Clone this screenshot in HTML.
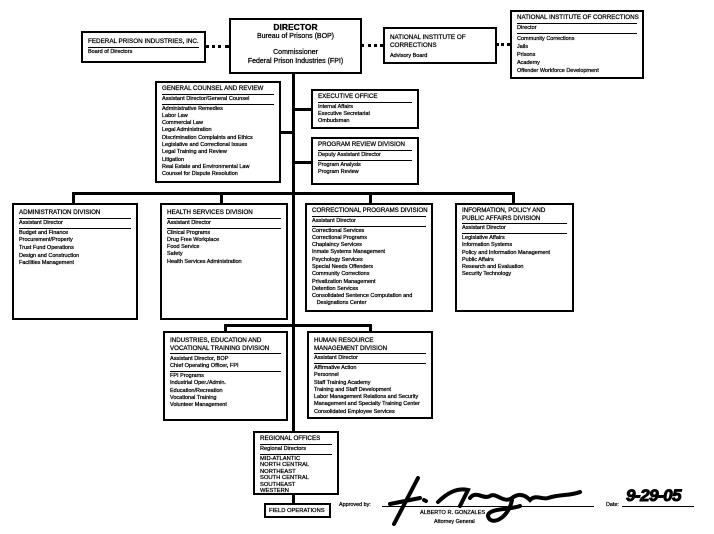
<!DOCTYPE html>
<html><head><meta charset="utf-8">
<style>
body{margin:0;width:714px;height:534px;background:#fff;position:relative;overflow:hidden;font-family:"Liberation Sans",Arial,sans-serif;color:#000;-webkit-text-stroke:0.25px #000}
.b{position:absolute;border:2px solid #000;box-sizing:border-box;padding:2px 5px;background:#fff}
.t{font-size:6.2px;line-height:7.5px;border-bottom:1.5px solid #000;padding-bottom:1px;white-space:nowrap}
.s{font-size:5.6px;line-height:7px;border-bottom:1.5px solid #000;padding:1px 0;white-space:nowrap}
.i{font-size:5.5px;line-height:7.3px;padding-top:1px;white-space:nowrap}
.h{position:absolute;background:#000}
.d{position:absolute;border-top:3px dotted #000;height:0}
.tx{position:absolute;white-space:nowrap}
</style></head><body>
<div class="h" style="left:292px;top:72px;width:3px;height:360px"></div>
<div class="h" style="left:292px;top:494px;width:3px;height:10px"></div>
<div class="h" style="left:279px;top:131px;width:14px;height:3px"></div>
<div class="h" style="left:293px;top:108px;width:18px;height:3px"></div>
<div class="h" style="left:293px;top:161px;width:18px;height:3px"></div>
<div class="h" style="left:72px;top:192px;width:443px;height:3px"></div>
<div class="h" style="left:72px;top:192px;width:3px;height:12px"></div>
<div class="h" style="left:220px;top:192px;width:3px;height:12px"></div>
<div class="h" style="left:369px;top:192px;width:3px;height:12px"></div>
<div class="h" style="left:512px;top:192px;width:3px;height:12px"></div>
<div class="h" style="left:224px;top:324px;width:148px;height:3px"></div>
<div class="h" style="left:224px;top:324px;width:3px;height:8px"></div>
<div class="h" style="left:369px;top:324px;width:3px;height:8px"></div>
<div class="d" style="left:205px;top:45px;width:24px"></div>
<div class="d" style="left:361px;top:44px;width:22px"></div>
<div class="d" style="left:496px;top:43px;width:14px"></div>

<div class="b" style="left:229px;top:18px;width:133px;height:56px;text-align:center;padding:2px 2px">
<div style="font-size:8.5px;font-weight:bold;line-height:10px">DIRECTOR</div>
<div style="font-size:7px;line-height:9px">Bureau of Prisons (BOP)</div>
<div style="font-size:7px;line-height:9px;margin-top:7px">Commissioner</div>
<div style="font-size:7px;line-height:9px">Federal Prison Industries (FPI)</div>
</div>

<div class="b" style="left:81px;top:31px;width:125px;height:32px;padding-top:5px">
<div class="t" style="font-size:6.3px">FEDERAL PRISON INDUSTRIES, INC.</div>
<div class="i">Board of Directors</div></div>

<div class="b" style="left:383px;top:27px;width:114px;height:37px;padding-top:5px">
<div style="font-size:6.3px;line-height:8px">NATIONAL INSTITUTE OF<br>CORRECTIONS</div>
<div class="i" style="padding-top:3px">Advisory Board</div></div>

<div class="b" style="left:510px;top:10px;width:134px;height:69px">
<div class="t">NATIONAL INSTITUTE OF CORRECTIONS</div>
<div class="s">Director</div>
<div class="i" style="line-height:8px">Community Corrections<br>Jails<br>Prisons<br>Academy<br>Offender Workforce Development</div></div>

<div class="b" style="left:155px;top:81px;width:126px;height:102px">
<div class="t">GENERAL COUNSEL AND REVIEW</div>
<div class="s">Assistant Director/General Counsel</div>
<div class="i">Administrative Remedies<br>Labor Law<br>Commercial Law<br>Legal Administration<br>Discrimination Complaints and Ethics<br>Legislative and Correctional Issues<br>Legal Training and Review<br>Litigation<br>Real Estate and Environmental Law<br>Counsel for Dispute Resolution</div></div>

<div class="b" style="left:311px;top:89px;width:108px;height:40px">
<div class="t">EXECUTIVE OFFICE</div>
<div class="i">Internal Affairs<br>Executive Secretariat<br>Ombudsman</div></div>

<div class="b" style="left:311px;top:137px;width:108px;height:48px">
<div class="t">PROGRAM REVIEW DIVISION</div>
<div class="s">Deputy Assistant Director</div>
<div class="i">Program Analysis<br>Program Review</div></div>

<div class="b" style="left:12px;top:203px;width:126px;height:117px;padding-top:4px">
<div class="t">ADMINISTRATION DIVISION</div>
<div class="s">Assistant Director</div>
<div class="i" style="line-height:7.7px">Budget and Finance<br>Procurement/Property<br>Trust Fund Operations<br>Design and Construction<br>Facilities Management</div></div>

<div class="b" style="left:160px;top:203px;width:128px;height:117px;padding-top:4px">
<div class="t">HEALTH SERVICES DIVISION</div>
<div class="s">Assistant Director</div>
<div class="i">Clinical Programs<br>Drug Free Workplace<br>Food Service<br>Safety<br>Health Services Administration</div></div>

<div class="b" style="left:305px;top:203px;width:128px;height:109px">
<div class="t">CORRECTIONAL PROGRAMS DIVISION</div>
<div class="s">Assistant Director</div>
<div class="i">Correctional Services<br>Correctional Programs<br>Chaplaincy Services<br>Inmate Systems Management<br>Psychology Services<br>Special Needs Offenders<br>Community Corrections<br>Privatization Management<br>Detention Services<br>Consolidated Sentence Computation and<br>&nbsp;&nbsp;&nbsp;Designations Center</div></div>

<div class="b" style="left:455px;top:203px;width:119px;height:109px">
<div class="t" style="white-space:normal">INFORMATION, POLICY AND PUBLIC AFFAIRS DIVISION</div>
<div class="s">Assistant Director</div>
<div class="i">Legislative Affairs<br>Information Systems<br>Policy and Information Management<br>Public Affairs<br>Research and Evaluation<br>Security Technology</div></div>

<div class="b" style="left:163px;top:331px;width:125px;height:90px;padding-top:4px">
<div class="t">INDUSTRIES, EDUCATION AND<br>VOCATIONAL TRAINING DIVISION</div>
<div class="s" style="padding-top:2px">Assistant Director, BOP<br>Chief Operating Officer, FPI</div>
<div class="i">FPI Programs<br>Industrial Oper./Admin.<br>Education/Recreation<br>Vocational Training<br>Volunteer Management</div></div>

<div class="b" style="left:307px;top:331px;width:126px;height:88px;padding-top:4px">
<div class="t" style="border:none">HUMAN RESOURCE<br>MANAGEMENT DIVISION</div>
<div class="s" style="border-top:1.5px solid #000">Assistant Director</div>
<div class="i">Affirmative Action<br>Personnel<br>Staff Training Academy<br>Training and Staff Development<br>Labor Management Relations and Security<br>Management and Specialty Training Center<br>Consolidated Employee Services</div></div>

<div class="b" style="left:253px;top:431px;width:86px;height:64px">
<div class="t">REGIONAL OFFICES</div>
<div class="s">Regional Directors</div>
<div class="i" style="line-height:6.5px;font-size:5.8px">MID-ATLANTIC<br>NORTH CENTRAL<br>NORTHEAST<br>SOUTH CENTRAL<br>SOUTHEAST<br>WESTERN</div></div>

<div class="b" style="left:264px;top:503px;width:67px;height:15px;padding:2px 3px">
<div style="font-size:5.8px;line-height:8px">FIELD OPERATIONS</div></div>

<div class="tx" style="left:339px;top:502px;font-size:5.4px">Approved by:</div>
<div class="h" style="left:382px;top:506px;width:212px;height:1px"></div>
<div class="tx" style="left:420px;top:510px;font-size:5.6px">ALBERTO R. GONZALES</div>
<div class="tx" style="left:434px;top:519px;font-size:5.4px">Attorney General</div>
<div class="tx" style="left:606px;top:502px;font-size:5.4px">Date:</div>
<div class="h" style="left:622px;top:506px;width:72px;height:1px"></div>
<div class="tx" style="left:626px;top:486px;font-size:17px;font-weight:bold;font-style:italic;letter-spacing:-0.5px;-webkit-text-stroke:1px #000">9-29-05</div>
<svg style="position:absolute;left:380px;top:470px" width="230" height="60" viewBox="0 0 230 60">
<g fill="none" stroke="#000" stroke-width="4" stroke-linecap="round">
<path d="M14 54 L38 8"/><path d="M10 34 L40 28"/>
<path d="M44 30 l2 1"/>
<path d="M58 32 C70 20 80 18 88 20 L80 36"/>
<path d="M90 28 C96 20 104 30 110 26 C116 22 124 34 132 28 C140 22 146 26 150 30 C156 24 162 30 168 28 C180 24 190 26 200 22"/>
<path d="M132 30 C128 50 110 56 108 46 C108 38 130 40 140 36"/>
</g></svg>
</body></html>
